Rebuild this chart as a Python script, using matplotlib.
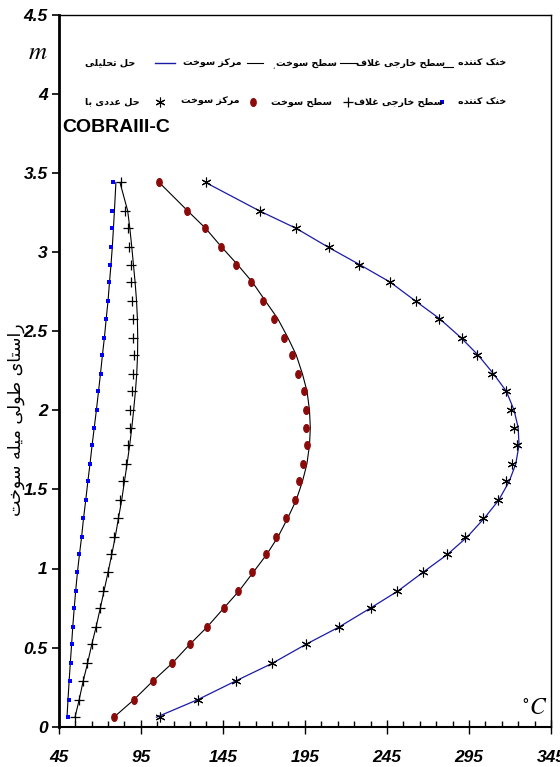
import matplotlib
matplotlib.use('Agg')
import matplotlib.pyplot as plt
from matplotlib.lines import Line2D
from matplotlib.font_manager import FontProperties
from matplotlib.ticker import FixedLocator, MultipleLocator
import numpy as np

plt.rcParams['mathtext.fontset'] = 'stix'

# height along the fuel rod (m)
z = [0.06, 0.17, 0.29, 0.40, 0.52, 0.63, 0.75, 0.86, 0.98, 1.09,
     1.20, 1.32, 1.43, 1.55, 1.66, 1.78, 1.89, 2.00, 2.12, 2.23,
     2.35, 2.46, 2.58, 2.69, 2.81, 2.92, 3.03, 3.15, 3.26, 3.44]

# numerical solution (COBRA III-C), deg C
cool_num = [50.8, 51.2, 51.8, 52.4, 53.2, 53.6, 54.4, 55.3, 56.3, 57.5,
            58.9, 59.9, 61.3, 62.8, 64.2, 65.2, 66.4, 68.0, 69.0, 70.5,
            71.5, 72.3, 73.7, 74.7, 75.5, 76.1, 76.8, 77.6, 77.6, 78.2]
clad_num = [54.9, 57.5, 59.9, 62.4, 65.0, 67.4, 70.1, 72.1, 74.7, 76.8,
            78.8, 80.8, 82.6, 84.3, 85.7, 87.3, 88.1, 88.7, 89.9, 90.5,
            90.7, 90.3, 90.3, 89.9, 89.3, 88.9, 87.9, 86.9, 85.3, 82.8]
surf_num = [78.6, 90.7, 102.5, 114.1, 124.8, 135.4, 145.9, 154.2, 162.9, 171.2,
            177.1, 183.4, 188.7, 191.1, 194.0, 196.4, 195.8, 195.4, 194.4, 190.5,
            187.3, 182.4, 176.1, 169.2, 161.9, 152.8, 143.7, 133.9, 123.2, 106.2]
cent_num = [106.9, 129.9, 153.2, 175.1, 195.4, 216.0, 235.3, 251.1, 267.1, 281.9,
            292.7, 303.6, 312.8, 317.4, 321.5, 324.5, 322.5, 320.5, 317.4, 308.9,
            300.2, 290.7, 276.5, 262.7, 246.9, 228.2, 209.4, 189.7, 167.4, 134.5]

# analytical solution, deg C
cool_ana = [50.0, 50.6, 51.3, 52.0, 52.8, 53.5, 54.4, 55.3, 56.4, 57.6,
            58.9, 60.1, 61.4, 62.7, 64.0, 65.3, 66.6, 67.9, 69.2, 70.4,
            71.6, 72.8, 73.9, 75.0, 75.9, 76.8, 77.6, 78.3, 78.9, 79.8]
clad_ana = [54.9, 57.4, 59.9, 62.5, 65.1, 67.7, 70.3, 72.6, 75.1, 77.3,
            79.4, 81.4, 83.3, 85.0, 86.6, 88.2, 89.5, 90.6, 91.7, 92.5,
            93.0, 93.1, 92.9, 92.4, 91.5, 90.5, 89.5, 88.3, 87.0, 82.3]
surf_ana = [78.6, 90.7, 102.5, 114.0, 124.8, 135.4, 145.6, 155.0, 163.8, 171.8,
            178.6, 184.6, 189.6, 193.5, 196.2, 197.8, 198.3, 197.8, 196.3, 193.5,
            189.7, 184.6, 178.4, 171.0, 163.0, 154.0, 144.4, 134.5, 123.6, 106.2]
cent_ana = [104.5, 129.5, 153.0, 175.0, 195.5, 215.8, 235.0, 252.0, 267.5, 282.0,
            294.0, 304.5, 313.0, 319.5, 323.5, 325.5, 325.0, 322.5, 317.8, 310.0,
            300.5, 290.0, 277.0, 262.5, 247.0, 228.5, 209.4, 189.7, 167.4, 134.5]

x_ticks = [45, 95, 145, 195, 245, 295, 345]
y_ticks = [0, 0.5, 1, 1.5, 2, 2.5, 3, 3.5, 4, 4.5]
y_ticklabels = ['0', '0.5', '1', '1.5', '2', '2.5', '3', '3.5', '4', '4.5']

ylabel = 'راستای طولی میله سوخت'
lbl_cool = 'خنک کننده'
lbl_clad = 'سطح خارجی غلاف'
lbl_surf = 'سطح سوخت'
lbl_cent = 'مرکز سوخت'
lbl_ana = 'حل تحلیلی'
lbl_num = 'حل عددی با'


# --- minimal Persian shaping (matplotlib has no complex text layout) ---
LAMALEF = '\uE000'
four = {'ب': 0xFE8F, 'ت': 0xFE95, 'ث': 0xFE99, 'ج': 0xFE9D, 'ح': 0xFEA1,
        'خ': 0xFEA5, 'س': 0xFEB1, 'ش': 0xFEB5, 'ص': 0xFEB9, 'ض': 0xFEBD,
        'ط': 0xFEC1, 'ظ': 0xFEC5, 'ع': 0xFEC9, 'غ': 0xFECD, 'ف': 0xFED1,
        'ق': 0xFED5, 'ل': 0xFEDD, 'م': 0xFEE1, 'ن': 0xFEE5, 'ه': 0xFEE9,
        '\u0643': 0xFED9, '\u064A': 0xFEF1,
        '\u067E': 0xFB56, '\u0686': 0xFB7A, '\u06A9': 0xFB8E, '\u06AF': 0xFB92,
        '\u06CC': 0xFBFC}
two = {'ا': 0xFE8D, 'د': 0xFEA9, 'ذ': 0xFEAB, 'ر': 0xFEAD, 'ز': 0xFEAF,
       'و': 0xFEED, '\u0698': 0xFB8A, '\u0649': 0xFEEF, LAMALEF: 0xFEFB}


def shape(text):
    s = text.replace('لا', LAMALEF)
    out = []
    for k, c in enumerate(s):
        if c not in four and c not in two:
            out.append(c)
            continue
        prev_ok = k > 0 and s[k - 1] in four
        next_ok = c in four and k + 1 < len(s) and (s[k + 1] in four or s[k + 1] in two)
        base = four.get(c, two.get(c))
        if prev_ok and next_ok:
            off = 3
        elif next_ok:
            off = 2
        elif prev_ok:
            off = 1
        else:
            off = 0
        out.append(chr(base + off))
    return ''.join(reversed(out))


W, H = 560, 767
fig = plt.figure(figsize=(W / 100, H / 100), dpi=100)
ax = fig.add_axes([58.8 / W, 40.3 / H, (551 - 58.8) / W, (726.7 - 14.8) / H])

blue_line = '#1A1AA6'
dark_red = '#8B0A0A'

# analytical curves
ax.plot(cool_ana, z, color='black', lw=0.8)
ax.plot(clad_ana, z, color='black', lw=0.8)
ax.plot(surf_ana, z, color='black', lw=0.8)
ax.plot(cent_ana, z, color=blue_line, lw=0.9)

# numerical points
t = np.linspace(0, 2 * np.pi, 30)
ellipse = list(zip(0.7 * np.cos(t), np.sin(t)))
dash = [(-1, -0.75), (1, -0.75), (1, 0.75), (-1, 0.75), (-1, -0.75)]
ax.plot(cool_num, z, ls='none', marker=dash, ms=3.2, mew=0, color='#0000FF')
ax.plot(clad_num, z, ls='none', marker='+', ms=7, mew=0.9, color='black')
ax.plot(surf_num, z, ls='none', marker=ellipse, ms=5.5, color=dark_red, mec=dark_red)
ax.plot(cent_num, z, ls='none', marker=(6, 2, 0), ms=7, mew=0.8, color='black')

ax.set_xlim(45, 345)
ax.set_ylim(0, 4.5)
ax.xaxis.set_major_locator(FixedLocator(x_ticks))
ax.xaxis.set_minor_locator(MultipleLocator(10, offset=5))
ax.set_xticklabels([str(v) for v in x_ticks])
ax.yaxis.set_major_locator(FixedLocator(y_ticks))
ax.set_yticklabels(y_ticklabels)

tick_font = FontProperties(family=['Liberation Sans Narrow', 'Liberation Sans'],
                           weight='bold', style='italic', size=12.5)
for lab in ax.get_xticklabels() + ax.get_yticklabels():
    lab.set_fontproperties(tick_font)

ax.tick_params(axis='x', which='major', direction='inout', length=10, width=1, pad=12)
ax.tick_params(axis='x', which='minor', direction='in', length=4, width=1)
ax.tick_params(axis='y', which='major', direction='out', length=5, width=1.2, pad=3)

ax.spines['left'].set_linewidth(2)
ax.spines['bottom'].set_linewidth(1.5)
ax.spines['top'].set_linewidth(1)
ax.spines['right'].set_linewidth(1)


def fx(px):
    return px / W


def fy(py):
    return 1 - py / H


fig.text(fx(16), fy(420), shape(ylabel), family='DejaVu Sans', fontsize=12.5,
         rotation=90, ha='center', va='center')

ax.text(0.967, 0.027, r'$^{\circ}C$', transform=ax.transAxes, fontsize=17,
        ha='center', va='center')
fig.text(fx(38), fy(52), r'$m$', fontsize=18, ha='center', va='center')

leg_font = dict(family='DejaVu Sans', weight='bold', fontsize=6.8, ha='center', va='center')

# row 1: analytical
y1 = 63
fig.text(fx(110), fy(y1), shape(lbl_ana), **leg_font)
fig.add_artist(Line2D([fx(155), fx(175)], [fy(y1), fy(y1)], color=blue_line, lw=1, transform=fig.transFigure))
fig.text(fx(212), fy(y1), shape(lbl_cent), **leg_font)
fig.add_artist(Line2D([fx(247), fx(263)], [fy(y1), fy(y1)], color='black', lw=0.8, transform=fig.transFigure))
fig.text(fx(273), fy(y1 + 4), '،', family='DejaVu Sans', fontsize=5, ha='center', va='center')
fig.text(fx(306), fy(y1), shape(lbl_surf), **leg_font)
fig.add_artist(Line2D([fx(340), fx(357)], [fy(y1), fy(y1)], color='black', lw=0.8, transform=fig.transFigure))
fig.text(fx(400), fy(y1), shape(lbl_clad), **leg_font)
fig.add_artist(Line2D([fx(443), fx(453)], [fy(y1 + 4), fy(y1 + 4)], color='black', lw=0.8, transform=fig.transFigure))
fig.text(fx(482), fy(y1), shape(lbl_cool), **leg_font)

# row 2: numerical
y2 = 102
fig.text(fx(112), fy(y2), shape(lbl_num), **leg_font)
fig.add_artist(Line2D([fx(160)], [fy(y2)], ls='none', marker=(6, 2, 0), ms=7, mew=0.8,
                      color='black', transform=fig.transFigure))
fig.text(fx(210), fy(y2), shape(lbl_cent), **leg_font)
fig.add_artist(Line2D([fx(253)], [fy(y2)], ls='none', marker=ellipse, ms=5.5, color=dark_red,
                      mec=dark_red, transform=fig.transFigure))
fig.text(fx(301), fy(y2), shape(lbl_surf), **leg_font)
fig.add_artist(Line2D([fx(348)], [fy(y2)], ls='none', marker='+', ms=7, mew=0.9,
                      color='black', transform=fig.transFigure))
fig.text(fx(398), fy(y2), shape(lbl_clad), **leg_font)
fig.add_artist(Line2D([fx(442)], [fy(y2)], ls='none', marker=dash, ms=3.2, mew=0, color='#0000FF',
                      transform=fig.transFigure))
fig.text(fx(482), fy(y2), shape(lbl_cool), **leg_font)

fig.text(fx(62), fy(127), 'COBRAIII-C', family=['Liberation Sans Narrow', 'Liberation Sans'],
         weight='bold', fontsize=14, ha='left', va='center')

fig.savefig('out.png', dpi=100)
